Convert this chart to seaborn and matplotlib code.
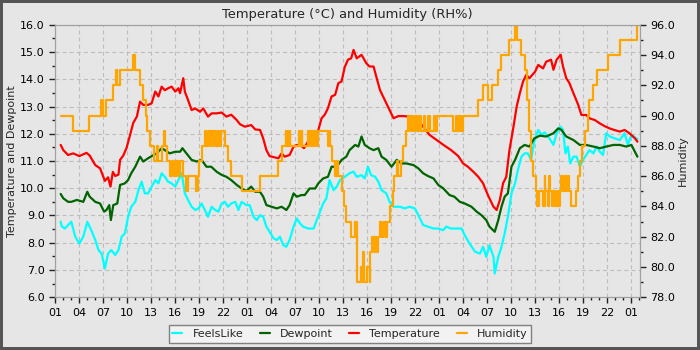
import matplotlib
matplotlib.use("Agg")
import matplotlib.pyplot as plt
from matplotlib.ticker import MultipleLocator, FormatStrFormatter
import seaborn as sns

# time axis: hours counted from 01:00 on the first day
temp_hours = [0.67, 1.0, 1.6, 2.25, 3.0, 3.9, 4.3, 5.0, 5.6, 6.0, 6.2, 6.6, 6.9, 7.2, 7.5, 7.9, 8.1, 8.5, 8.9, 9.3,
              9.75, 10.2, 10.6, 11.0, 11.6, 12.05, 12.5, 12.9, 13.3, 13.7, 14.1, 14.55, 15.0, 15.4, 15.6, 16.0, 16.2,
              16.6, 17.05, 17.5, 18.1, 18.5, 19.1, 19.55, 20.2, 20.8, 21.4, 22.0, 22.7, 23.1, 23.7, 24.5, 25.0, 25.6,
              26.0, 26.4, 26.8, 27.5, 27.9, 28.3, 28.7, 29.3, 29.8, 30.2, 30.8, 31.1, 31.6, 32.3, 32.9, 33.3, 33.7,
              34.1, 34.55, 35.0, 35.4, 35.8, 36.2, 36.6, 37.0, 37.3, 37.7, 38.3, 38.9, 39.3, 39.8, 40.2, 40.6, 41.2,
              41.8, 42.3, 42.9, 43.5, 44.3, 45.2, 46.0, 46.8, 47.7, 48.5, 49.5, 50.4, 51.0, 51.6, 52.3, 52.9, 53.5,
              54.1, 54.8, 55.2, 55.6, 56.0, 56.4, 56.8, 57.3, 57.7, 58.1, 58.5, 58.9, 59.3, 60.0, 60.4, 61.0, 61.4,
              62.0, 62.3, 62.7, 63.2, 63.5, 63.9, 64.3, 64.8, 65.4, 65.8, 66.4, 66.8, 67.5, 68.1, 68.7, 69.3, 69.9,
              70.6, 71.2, 71.8, 72.5, 72.8]
temp_vals = [11.59, 11.4, 11.22, 11.28, 11.18, 11.3, 11.2, 10.85, 10.73, 10.42, 10.27, 10.4, 10.06, 10.6, 10.45,
             10.5, 11.04, 11.2, 11.47, 11.9, 12.4, 12.63, 13.18, 13.06, 13.06, 13.12, 13.55, 13.37, 13.73, 13.6,
             13.67, 13.73, 13.55, 13.67, 13.49, 14.04, 13.55, 13.24, 12.87, 12.93, 12.81, 12.93, 12.63, 12.75, 12.75,
             12.78, 12.63, 12.7, 12.5, 12.35, 12.26, 12.32, 12.16, 12.14, 11.83, 11.4, 11.18, 11.13, 11.1, 11.28,
             11.16, 11.22, 11.53, 11.59, 11.55, 11.47, 11.71, 11.83, 12.14, 12.57, 12.7, 12.94, 13.37, 13.43, 13.86,
             13.92, 14.45, 14.72, 14.77, 15.08, 14.77, 14.9, 14.59, 14.47, 14.47, 14.04, 13.61, 13.24, 12.87, 12.57,
             12.65, 12.65, 12.63, 12.57, 12.26, 11.96, 11.77, 11.6, 11.4, 11.18, 10.91, 10.79, 10.6, 10.42, 10.18,
             9.75, 9.32, 9.2, 9.57, 10.18, 10.42, 11.4, 12.26, 13.0, 13.49, 13.92, 14.16, 14.04, 14.28, 14.53, 14.4,
             14.65, 14.72, 14.35, 14.72, 14.9, 14.47, 14.04, 13.86, 13.49, 13.06, 12.69, 12.69, 12.57, 12.5, 12.38,
             12.28, 12.2, 12.14, 12.08, 12.14, 12.02, 11.83, 11.71]

dew_hours = [0.67, 1.0, 1.6, 2.0, 2.7, 3.5, 4.0, 4.3, 5.0, 5.6, 6.1, 6.4, 6.75, 6.95, 7.25, 7.75, 8.1, 8.7, 9.1, 9.5,
             10.0, 10.6, 11.0, 11.6, 12.3, 12.7, 13.3, 13.7, 14.3, 15.0, 15.6, 15.9, 16.4, 17.05, 17.7, 18.3, 18.9,
             19.5, 20.2, 20.8, 21.4, 22.0, 22.7, 23.3, 23.9, 24.5, 25.0, 25.6, 26.0, 26.4, 27.05, 27.7, 28.3, 28.9,
             29.3, 29.8, 30.2, 30.8, 31.2, 31.8, 32.5, 32.9, 33.5, 34.1, 34.55, 35.2, 35.8, 36.4, 36.8, 37.5, 37.9,
             38.3, 38.7, 39.3, 39.8, 40.4, 40.8, 41.4, 42.05, 42.7, 43.3, 43.9, 44.8, 45.4, 46.0, 46.6, 47.3, 47.9,
             48.5, 49.3, 49.9, 50.6, 51.2, 52.05, 52.7, 53.3, 53.9, 54.3, 54.96, 55.4, 55.8, 56.2, 56.6, 57.05, 57.5,
             58.1, 58.7, 59.3, 59.9, 60.6, 61.4, 62.3, 62.9, 63.3, 63.9, 64.8, 65.6, 66.4, 67.3, 68.1, 68.9, 69.8,
             70.6, 71.4, 72.05, 72.8]
dew_vals = [9.79, 9.63, 9.5, 9.5, 9.57, 9.5, 9.87, 9.69, 9.5, 9.44, 9.14, 9.2, 9.38, 8.83, 9.38, 9.44, 10.12, 10.18,
            10.3, 10.55, 10.79, 11.16, 10.98, 11.1, 11.22, 11.28, 11.47, 11.4, 11.28, 11.34, 11.34, 11.47, 11.28, 11.04,
            10.98, 11.04, 10.79, 10.79, 10.6, 10.49, 10.42, 10.3, 10.12, 9.99, 9.9, 10.06, 9.87, 9.87, 9.69, 9.38,
            9.32, 9.26, 9.32, 9.2, 9.38, 9.81, 9.69, 9.75, 9.75, 9.99, 9.99, 10.18, 10.36, 10.42, 10.79, 10.79, 11.04,
            11.16, 11.4, 11.59, 11.53, 11.9, 11.59, 11.47, 11.4, 11.47, 11.16, 11.04, 10.79, 11.04, 10.91, 10.91,
            10.85, 10.73, 10.55, 10.45, 10.36, 10.12, 10.0, 9.75, 9.69, 9.5, 9.44, 9.32, 9.14, 9.01, 8.83, 8.59, 8.4,
            8.83, 9.32, 9.69, 9.81, 10.79, 11.04, 11.47, 11.59, 11.53, 11.83, 11.93, 11.9, 12.02, 12.2, 12.14, 11.9,
            11.77, 11.59, 11.59, 11.53, 11.47, 11.53, 11.59, 11.59, 11.53, 11.59, 11.16]

feels_hours = [0.67, 0.8, 1.2, 1.6, 2.0, 2.5, 3.0, 3.5, 4.0, 4.5, 5.0, 5.4, 5.8, 6.2, 6.6, 7.0, 7.5, 7.9, 8.3, 8.7,
               9.1, 9.5, 10.0, 10.4, 10.8, 11.2, 11.6, 12.05, 12.5, 12.9, 13.3, 13.7, 14.1, 14.55, 15.0, 15.4, 15.8,
               16.2, 16.6, 17.05, 17.5, 17.9, 18.3, 18.7, 19.1, 19.55, 20.0, 20.4, 20.8, 21.2, 21.6, 22.0, 22.5, 22.9,
               23.3, 23.9, 24.3, 24.8, 25.2, 25.6, 26.0, 26.4, 26.8, 27.3, 27.7, 28.1, 28.5, 28.9, 29.3, 29.8, 30.2,
               30.6, 31.0, 31.6, 32.3, 32.7, 33.1, 33.5, 33.9, 34.3, 34.8, 35.2, 35.6, 36.2, 36.8, 37.3, 37.7, 38.3,
               38.7, 39.1, 39.5, 40.0, 40.4, 40.8, 41.4, 41.8, 42.3, 42.7, 43.1, 43.7, 44.3, 44.97, 45.4, 46.0, 46.6,
               47.3, 47.9, 48.5, 48.9, 49.5, 50.2, 50.8, 51.2, 51.8, 52.5, 53.1, 53.5, 53.9, 54.3, 54.8, 54.96, 55.4,
               55.8, 56.2, 56.6, 57.05, 57.5, 57.9, 58.3, 58.7, 59.1, 59.5, 59.9, 60.4, 60.8, 61.2, 61.8, 62.3, 62.7,
               63.2, 63.5, 63.8, 64.1, 64.4, 64.8, 65.2, 65.6, 66.0, 66.4, 66.8, 67.3, 67.7, 68.1, 68.5, 68.9, 69.35,
               69.97, 70.6, 71.2, 71.6, 72.05, 72.8]
feels_vals = [8.77, 8.6, 8.52, 8.65, 8.77, 8.22, 7.97, 8.22, 8.77, 8.46, 8.1, 7.73, 7.6, 7.05, 7.6, 7.73, 7.55, 7.73,
              8.22, 8.34, 8.95, 9.32, 9.5, 9.93, 10.24, 9.81, 9.81, 10.06, 10.3, 10.18, 10.55, 10.42, 10.24, 10.18,
              10.06, 10.3, 10.55, 9.81, 9.57, 9.32, 9.2, 9.26, 9.44, 9.2, 8.95, 9.32, 9.2, 9.14, 9.44, 9.5, 9.32,
              9.44, 9.5, 9.2, 9.5, 9.38, 9.38, 8.95, 8.83, 9.01, 8.95, 8.59, 8.4, 8.16, 8.1, 8.22, 7.91, 7.85, 8.1,
              8.59, 8.89, 8.71, 8.59, 8.52, 8.52, 8.83, 9.14, 9.44, 9.63, 10.3, 9.93, 10.06, 10.3, 10.42, 10.55,
              10.61, 10.42, 10.48, 10.36, 10.79, 10.48, 10.42, 10.24, 9.93, 9.81, 9.5, 9.32, 9.32, 9.32, 9.26, 9.32,
              9.26, 9.01, 8.65, 8.59, 8.52, 8.52, 8.46, 8.59, 8.52, 8.52, 8.52, 8.28, 7.97, 7.67, 7.6, 7.85, 7.48,
              7.91, 7.48, 6.87, 7.48, 7.85, 8.34, 8.95, 9.81, 10.18, 10.73, 11.16, 11.28, 11.28, 11.04, 11.71, 12.14,
              11.96, 12.05, 11.83, 11.59, 12.02, 12.26, 12.14, 11.28, 11.53, 10.91, 11.16, 11.16, 10.79, 11.04, 11.22,
              11.4, 11.28, 11.53, 11.34, 11.22, 12.02, 11.9, 11.83, 11.77, 12.02, 11.59, 11.96, 11.8]

# humidity changes in whole percent steps, listed at the hour each new value starts
hum_hours = [0.67, 2.25, 4.25, 5.7, 6.0, 6.4, 7.2, 7.6, 7.75, 8.1, 9.7, 10.0, 10.6, 10.8, 11.0, 11.3, 11.5, 11.9,
             12.3, 12.7, 12.9, 13.3, 13.6, 13.75, 14.0, 14.4, 14.6, 14.9, 15.1, 15.4, 15.6, 16.0, 16.4, 16.6, 17.6,
             17.8, 18.0, 18.3, 18.7, 18.9, 19.1, 19.3, 19.5, 19.7, 19.9, 20.1, 20.3, 20.5, 20.7, 21.2, 21.6, 22.0,
             23.4, 25.6, 27.9, 28.3, 28.8, 28.9, 29.0, 29.1, 29.3, 29.4, 30.5, 30.6, 30.8, 30.9, 31.6, 31.8, 32.0,
             32.2, 32.4, 32.6, 32.9, 34.1, 34.3, 34.4, 34.55, 35.0, 35.2, 35.4, 35.8, 36.1, 36.4, 37.0, 37.5, 37.7,
             38.2, 38.4, 38.5, 38.6, 39.0, 39.3, 39.35, 39.6, 39.8, 40.0, 40.2, 40.4, 40.6, 40.9, 41.1, 41.3, 41.5,
             41.8, 42.2, 42.3, 42.7, 42.8, 43.2, 43.5, 43.9, 44.1, 44.3, 44.5, 44.7, 45.0, 45.2, 45.5, 45.7, 46.1,
             46.2, 46.6, 46.8, 47.3, 47.5, 47.7, 49.8, 50.1, 50.3, 50.5, 50.7, 51.0, 52.9, 53.5, 54.1, 54.6, 55.4,
             55.8, 56.8, 57.5, 57.7, 58.2, 58.7, 59.0, 59.2, 59.5, 59.7, 60.1, 60.3, 60.5, 61.0, 61.2, 61.3, 61.6,
             61.8, 61.9, 62.1, 62.3, 62.5, 62.7, 62.9, 63.1, 63.2, 63.5, 63.7, 64.0, 64.1, 64.3, 64.5, 65.1, 65.4,
             65.6, 65.9, 66.2, 66.6, 66.8, 67.3, 67.7, 69.1, 70.6, 72.7, 73.0]
hum_vals = [90, 89, 90, 91, 90, 91, 92, 93, 92, 93, 94, 93, 92, 92, 91, 90, 89, 88,
            87, 88, 87, 88, 89, 88, 87, 86, 87, 86, 87, 86, 87, 86, 85, 86, 85,
            86, 87, 88, 89, 88, 89, 88, 89, 88, 89, 88, 89, 88, 89, 88, 87, 86,
            85, 86, 87, 88, 89, 88, 89, 88, 89, 88, 89, 88, 89, 88, 89, 88, 89,
            88, 89, 88, 89, 88, 89, 88, 87, 86, 87, 86, 85, 84, 83, 82, 83, 79,
            80, 79, 81, 79, 80, 79, 81, 82, 81, 82, 81, 82, 83, 82, 83, 82, 83,
            84, 85, 86, 87, 86, 87, 88, 89, 90, 89, 90, 89, 90, 89, 90, 89, 90,
            89, 90, 89, 90, 89, 90, 89, 90, 89, 90, 89, 90, 91, 92, 91, 92, 93,
            94, 95, 96, 95, 94, 93, 91, 89, 87, 86, 85, 84, 85, 84, 86, 85, 84,
            86, 85, 84, 85, 84, 85, 84, 85, 86, 85, 86, 85, 86, 85, 84, 85, 86,
            87, 88, 89, 90, 91, 92, 93, 94, 95, 96, 96]

hour_ticks = list(range(0, 73, 3))
hour_labels = [f"{(1 + h) % 24:02d}" for h in hour_ticks]

bg = "#e6e6e6"
sns.set_style("ticks", {"axes.facecolor": bg, "figure.facecolor": bg,
                        "axes.edgecolor": "#a0a0a0", "xtick.color": "#222222", "ytick.color": "#222222"})
plt.rcParams["font.family"] = ["DejaVu Sans"]

fig = plt.figure(figsize=(7, 3.5), dpi=100, facecolor=bg, edgecolor="#555555", linewidth=4)
ax = fig.add_axes([0.079, 0.151, 0.835, 0.778])
ax2 = ax.twinx()

sns.lineplot(x=feels_hours, y=feels_vals, ax=ax, color="#00ffff", lw=1.6, label="FeelsLike",
             estimator=None, sort=False)
sns.lineplot(x=dew_hours, y=dew_vals, ax=ax, color="#006400", lw=1.6, label="Dewpoint",
             estimator=None, sort=False)
sns.lineplot(x=temp_hours, y=temp_vals, ax=ax, color="#ff0000", lw=1.6, label="Temperature",
             estimator=None, sort=False)
sns.lineplot(x=hum_hours, y=hum_vals, ax=ax2, color="#ffa500", lw=1.6, label="Humidity",
             estimator=None, sort=False, drawstyle="steps-post")

ax.set_xlim(0, 73.1)
ax.set_ylim(6, 16)
ax2.set_ylim(78, 96)

ax.set_xticks(hour_ticks)
ax.set_xticklabels(hour_labels)
ax.xaxis.set_minor_locator(MultipleLocator(1))
ax.yaxis.set_major_locator(MultipleLocator(1))
ax.yaxis.set_minor_locator(MultipleLocator(0.5))
ax.yaxis.set_major_formatter(FormatStrFormatter("%.1f"))
ax2.yaxis.set_major_locator(MultipleLocator(2))
ax2.yaxis.set_minor_locator(MultipleLocator(1))
ax2.yaxis.set_major_formatter(FormatStrFormatter("%.1f"))

for a in (ax, ax2):
    a.tick_params(which="major", length=4, width=1, labelsize=8, labelcolor="black")
    a.tick_params(which="minor", length=2, width=1)
    for s in a.spines.values():
        s.set_color("#a0a0a0")
        s.set_visible(True)

ax.grid(True, which="major", color="#bdbdbd", linestyle=(0, (3.6, 2.8)), linewidth=0.8)
ax2.grid(False)

ax.set_title("Temperature (°C) and Humidity (RH%)", fontsize=9.4, pad=5)
ax.set_ylabel("Temperature and Dewpoint", fontsize=8, labelpad=2)
ax2.set_ylabel("Humidity", fontsize=8, labelpad=2)
ax.set_xlabel("")

h1, l1 = ax.get_legend_handles_labels()
h2, l2 = ax2.get_legend_handles_labels()
for a in (ax, ax2):
    if a.get_legend() is not None:
        a.get_legend().remove()
leg = fig.legend(h1 + h2, l1 + l2, loc="lower center", bbox_to_anchor=(0.5, 0.004), ncol=4, fontsize=8,
                 handlelength=0.9, handletextpad=0.9, columnspacing=1.5, borderpad=0.35,
                 fancybox=False, framealpha=1, facecolor="#f2f2f2", edgecolor="#808080")
leg.get_frame().set_linewidth(1)

fig.savefig("out.png", dpi=100, facecolor=bg, edgecolor="#555555")
